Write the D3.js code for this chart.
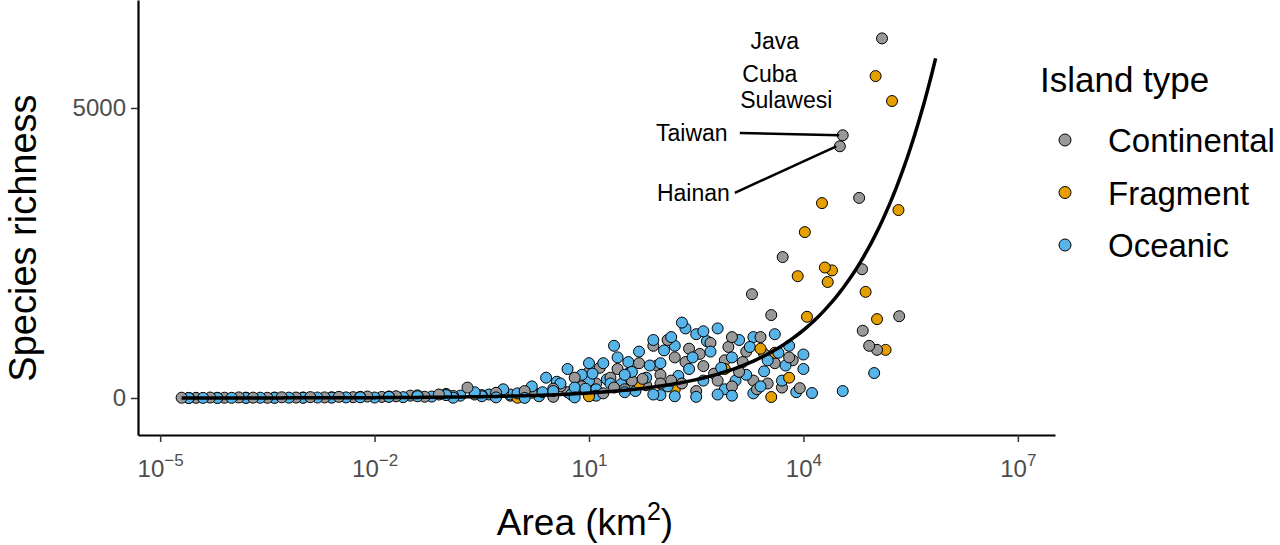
<!DOCTYPE html>
<html><head><meta charset="utf-8">
<script src="https://cdn.jsdelivr.net/npm/d3@7"></script>
<style>body{margin:0;background:#fff}text{font-family:"Liberation Sans",Arial,sans-serif}</style>
</head><body>
<svg id="chart" width="1280" height="545"></svg>
<script>
// log10(area) : richness, per island type
const continental = "-4.7:5 -4.5:3 -4.3:8 -4.1:5 -3.9:10 -3.7:6 -3.5:4 -3.3:12 -3.1:8 -2.9:15 -2.7:10 -2.5:20 -2.3:14 -2.1:25 -1.9:18 -1.7:30 -1.5:40 -1.3:22 -1.1:60 -0.9:35 -0.7:180 -0.5:50 -0.3:90 -0.1:40 0.1:120 0.3:70 0.5:160 0.7:100 0.9:200 1.0:450 1.1:250 1.2:80 1.3:350 1.4:500 1.5:150 1.6:300 1.7:600 1.8:220 1.9:900 2.0:400 2.1:1000 2.2:700 2.3:250 2.4:850 2.5:120 2.6:550 2.7:950 2.8:300 2.9:650 3.0:200 3.1:450 3.2:800 3.3:300 3.4:1050 3.5:250 3.55:1430 3.6:600 3.7:180 3.71:2430 3.8:700 3.85:650 3.95:170 3.28:1790 4.51:4340 4.55:4530 4.78:3450 4.82:2220 4.83:1160 4.92:900 5.03:830 5.1:6200 5.34:1410 3.0:1050 2.0:250 1.0:50 0.5:20 " +
  "-4.6:2 -4.2:4 -3.8:6 -3.4:7 -3.0:9 -2.6:12 -2.2:20 -1.8:25 -1.4:45 -1.0:70 -0.6:60 -0.2:110 0.2:90 0.6:200 0.8:350 1.15:520 1.35:180 1.55:420 1.75:330 1.95:560 2.15:300 2.35:620 2.55:760 2.75:420 2.95:880 3.15:620 3.35:150 3.45:760";
const fragment = "0.0:5 1.0:30 1.7:250 2.2:150 2.9:500 3.4:850 3.6:780 3.55:17 3.92:2100 4.02:2860 4.26:3360 4.34:2000 4.4:2200 4.3:2250 4.87:1830 5.01:5550 5.03:1360 5.15:830 5.24:5120 5.33:3240 3.8:350 4.05:1400";
const oceanic = "-4.6:0 -4.4:2 -4.2:1 -4.0:3 -3.8:2 -3.6:5 -3.4:3 -3.2:6 -3.0:4 -2.8:8 -2.6:6 -2.4:10 -2.2:12 -2.0:8 -1.8:20 -1.6:15 -1.4:30 -1.2:25 -1.0:50 -0.8:40 -0.6:100 -0.4:60 -0.2:150 0.0:80 0.2:200 0.3:30 0.4:350 0.5:120 0.6:250 0.7:500 0.8:180 0.9:400 1.0:300 1.1:150 1.2:600 1.3:250 1.4:700 1.5:100 1.6:450 1.7:800 1.8:350 1.9:1000 2.0:600 2.1:200 2.2:900 2.3:1300 2.35:1200 2.4:500 2.5:1100 2.6:300 2.7:800 2.8:1200 2.9:150 3.0:700 3.1:1000 3.2:400 3.3:1050 3.4:200 3.5:650 3.6:1100 3.7:300 3.8:900 3.9:100 4.0:500 4.12:86 4.55:120 4.99:430 4.0:750 2.0:50 1.5:400 0.8:10 2.5:20 3.0:40 1.0:600 -0.9:5 -0.3:10 0.1:2 " +
  "-0.5:30 -0.1:60 0.35:100 0.55:280 0.75:60 0.95:160 1.05:420 1.25:320 1.45:240 1.65:120 1.85:560 2.05:820 2.25:380 2.45:700 2.65:980 2.85:520 3.05:300 3.25:880 3.45:460 3.65:780 3.75:560 1.1:40 1.9:60 2.2:30 2.8:60 3.3:80 1.35:900 1.55:620 2.15:1050 2.6:1150";
const types = ["Continental", "Fragment", "Oceanic"];
const colors = ["#999999", "#E69F00", "#56B4E9"];
const xTicks = [-5, -2, 1, 4, 7];
const yTicks = [0, 5000];
const labels = [
  {name: "Java", lx: 3.6, ly: 6020, anchor: "middle"},
  {name: "Cuba", lx: 3.53, ly: 5440, anchor: "middle"},
  {name: "Sulawesi", lx: 3.76, ly: 5000, anchor: "middle"},
  {name: "Taiwan", lx: 2.94, ly: 4430, anchor: "end", tx: 3.11, px: 4.5, py: 4530},
  {name: "Hainan", lx: 2.97, ly: 3400, anchor: "end", tx: 3.04, px: 4.46, py: 4340}
];
const curveC = 36, curveZ = 0.378;

const parse = s => s.split(" ").map(p => p.split(":").map(Number));
const points = [];
[continental, fragment, oceanic].forEach((s, i) => parse(s).forEach(d => points.push({a: d[0], s: d[1], t: i})));
points.sort((p, q) => (p.a * 7.3 % 1) - (q.a * 7.3 % 1));

const svg = d3.select("#chart");
const x = d3.scaleLog().domain([Math.pow(10, -5.31), Math.pow(10, 7.52)]).range([138, 1055]);
const y = d3.scaleLinear().domain([-638, 6862]).range([435, 0]);

const xAxis = svg.append("g").attr("transform", "translate(0,435)")
  .call(d3.axisBottom(x).tickValues(xTicks.map(e => Math.pow(10, e))).tickSize(7).tickSizeOuter(0).tickFormat(""));
xAxis.selectAll(".tick").each(function(d) {
  const t = d3.select(this).append("text").attr("y", 42).attr("fill", "#4d4d4d").attr("font-size", 24).attr("text-anchor", "middle");
  t.append("tspan").text("10");
  t.append("tspan").attr("dy", -11).attr("font-size", 17).text(String(Math.round(Math.log10(d))).replace("-", "\u2212"));
});
const yAxis = svg.append("g").attr("transform", "translate(138,0)")
  .call(d3.axisLeft(y).tickValues(yTicks).tickSize(7).tickSizeOuter(0).tickFormat(d3.format("d")));
yAxis.selectAll("text").attr("font-size", 24).attr("fill", "#4d4d4d").attr("x", -12);
[xAxis, yAxis].forEach(g => { g.select(".domain").attr("stroke", "#000").attr("stroke-width", 2.2); g.selectAll("line").attr("stroke", "#333").attr("stroke-width", 1.5); });

svg.append("g").selectAll("circle").data(points).join("circle")
  .attr("cx", d => x(Math.pow(10, d.a))).attr("cy", d => y(d.s)).attr("r", 5.5)
  .attr("fill", d => colors[d.t]).attr("stroke", "#000").attr("stroke-width", 1);

const curveX = d3.range(-4.7, 5.891, 0.05);
svg.append("path").datum(curveX)
  .attr("d", d3.line().x(e => x(Math.pow(10, e))).y(e => y(curveC * Math.pow(10, e * curveZ))))
  .attr("fill", "none").attr("stroke", "#000").attr("stroke-width", 3.5);

labels.forEach(l => {
  svg.append("text").attr("x", x(Math.pow(10, l.lx))).attr("y", y(l.ly)).attr("text-anchor", l.anchor)
    .attr("font-size", 23).text(l.name);
  if (l.px !== undefined)
    svg.append("line").attr("x1", x(Math.pow(10, l.tx))).attr("y1", y(l.ly) - 8)
      .attr("x2", x(Math.pow(10, l.px))).attr("y2", y(l.py)).attr("stroke", "#000").attr("stroke-width", 2.5);
});

svg.append("text").attr("x", 585).attr("y", 535).attr("text-anchor", "middle").attr("font-size", 37)
  .html('Area (km<tspan dy="-15" font-size="25">2</tspan><tspan dy="15">)</tspan>');
svg.append("text").attr("transform", "translate(36,238) rotate(-90)").attr("text-anchor", "middle")
  .attr("font-size", 38).text("Species richness");

const lg = svg.append("g");
lg.append("text").attr("x", 1040).attr("y", 92).attr("font-size", 35).text("Island type");
types.forEach((t, i) => {
  lg.append("circle").attr("cx", 1065).attr("cy", 140 + i * 52.5).attr("r", 6).attr("fill", colors[i]).attr("stroke", "#000");
  lg.append("text").attr("x", 1108).attr("y", 152 + i * 52.5).attr("font-size", 33).text(t);
});
</script>
</body></html>
